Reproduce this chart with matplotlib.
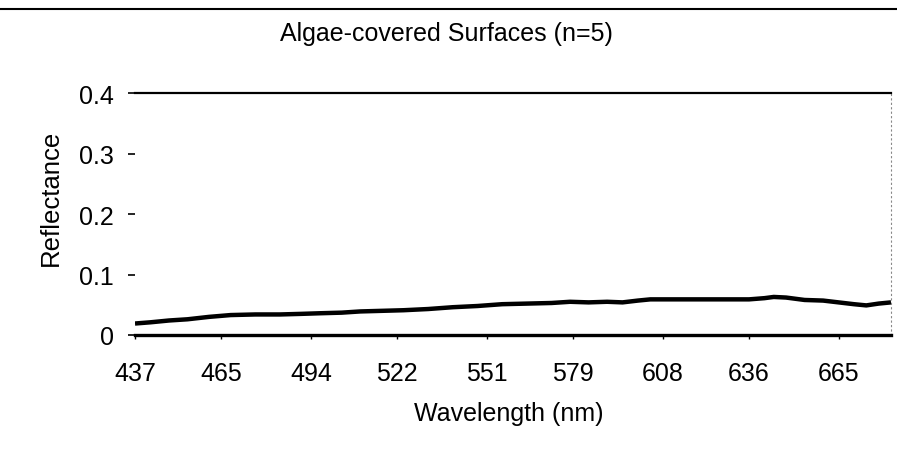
import matplotlib
matplotlib.use("Agg")
import matplotlib.pyplot as plt
from matplotlib.lines import Line2D

plt.rcParams["font.family"] = ["Liberation Sans", "DejaVu Sans"]

# mean reflectance of the algae-covered surfaces
wavelength = [437, 442, 448, 454, 461, 468, 476, 484, 491, 497, 504, 510, 517, 524,
              532, 540, 548, 556, 564, 572, 578, 584, 590, 595, 600, 604, 612,
              619, 627, 636, 641, 644, 648, 654, 660, 665, 670, 674, 678, 682]
reflectance = [0.019, 0.021, 0.024, 0.026, 0.030, 0.033, 0.034, 0.034, 0.035, 0.036,
               0.037, 0.039, 0.040, 0.041, 0.043, 0.046, 0.048, 0.051, 0.052, 0.053,
               0.055, 0.054, 0.055, 0.054, 0.057, 0.059, 0.059, 0.059, 0.059, 0.059,
               0.061, 0.063, 0.062, 0.058, 0.057, 0.054, 0.051, 0.049, 0.052, 0.054]

xtick_vals = [437, 465, 494, 522, 551, 579, 608, 636, 665]
ytick_vals = [0, 0.1, 0.2, 0.3, 0.4]
ytick_labels = ["0", "0.1", "0.2", "0.3", "0.4"]

fig = plt.figure(figsize=(8.97, 4.60), dpi=100)
ax = fig.add_axes([0.1505, 0.2696, 0.8428, 0.525])

ax.plot(wavelength, reflectance, color="black", linewidth=3.2, solid_capstyle="butt")

ax.set_xlim(437, 682)
ax.set_ylim(0, 0.4)
ax.set_xticks(xtick_vals)
ax.set_xticklabels([str(v) for v in xtick_vals])
ax.set_yticks(ytick_vals)
ax.set_yticklabels(ytick_labels)

ax.tick_params(axis="x", direction="out", length=3, width=1, pad=16, labelsize=18)
ax.tick_params(axis="y", direction="out", length=5, width=1.2, pad=10, labelsize=18)

ax.spines["left"].set_visible(False)
ax.spines["top"].set_linewidth(1.6)
ax.spines["bottom"].set_linewidth(2.4)
ax.spines["right"].set_linestyle((0, (1, 3)))
ax.spines["right"].set_color("#888888")
ax.spines["right"].set_linewidth(0.8)

ax.set_xlabel("Wavelength (nm)", fontsize=18)
ax.xaxis.set_label_coords(0.495, -0.323)
ax.xaxis.label.set_va("center")
ax.set_ylabel("Reflectance", fontsize=18.5)
ax.yaxis.set_label_coords(-0.111, 0.57)
ax.yaxis.label.set_va("center")

fig.text(446 / 897, 1 - 34 / 460, "Algae-covered Surfaces (n=5)",
         fontsize=18, ha="center", va="center")

# rule across the top of the page
fig.add_artist(Line2D([0, 1], [0.978, 0.978], transform=fig.transFigure,
                      color="black", linewidth=1.5))

fig.savefig("out.png", dpi=100)
